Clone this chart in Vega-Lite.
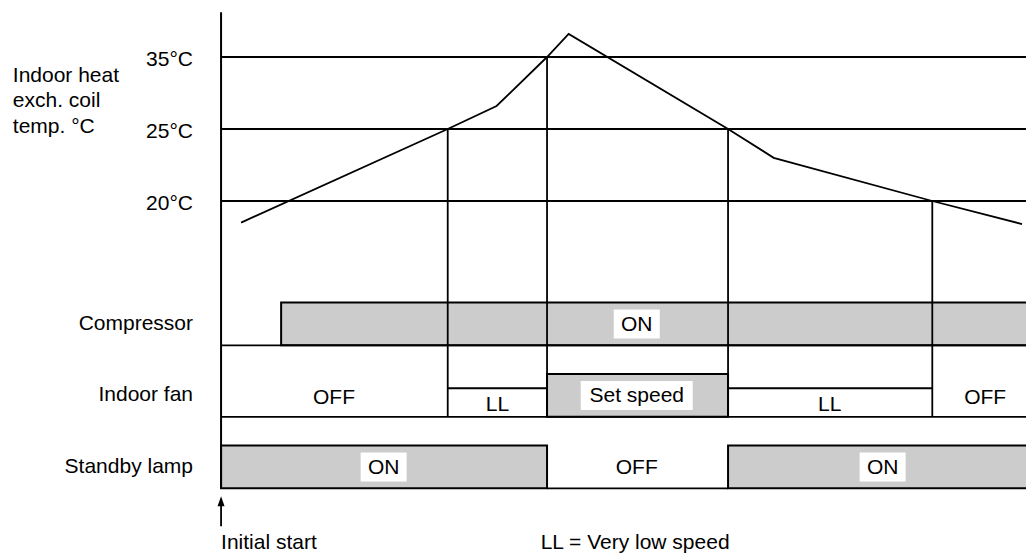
{
  "$schema": "https://vega.github.io/schema/vega-lite/v6.json",
  "width": 1026,
  "height": 555,
  "autosize": {"type": "none"},
  "padding": 0,
  "background": "white",
  "config": {
    "view": {"stroke": null},
    "text": {"font": "Liberation Sans", "fontSize": 21, "color": "#000000"},
    "rule": {"color": "#000000", "strokeWidth": 1.8}
  },
  "datasets": {
    "coilTemp": [
      {"t": 2.5, "temp": 18.5},
      {"t": 28.3, "temp": 25},
      {"t": 34.4, "temp": 28.2},
      {"t": 40.7, "temp": 35},
      {"t": 43.4, "temp": 38.2},
      {"t": 63.3, "temp": 25},
      {"t": 69.0, "temp": 23.0},
      {"t": 88.8, "temp": 20},
      {"t": 100.0, "temp": 18.4}
    ],
    "thresholds": [
      {"temp": 35, "label": "35°C"},
      {"temp": 25, "label": "25°C"},
      {"temp": 20, "label": "20°C"}
    ],
    "switchPoints": [
      {"t": 28.3, "temp": 25},
      {"t": 40.7, "temp": 35},
      {"t": 63.3, "temp": 25},
      {"t": 88.8, "temp": 20}
    ],
    "onBars": [
      {"lane": "Compressor", "state": "ON", "t0": 7.5, "t1": 101, "lo": 10, "hi": 13},
      {"lane": "Indoor fan", "state": "Set speed", "t0": 40.7, "t1": 63.3, "lo": 5, "hi": 8},
      {"lane": "Standby lamp", "state": "ON", "t0": 0, "t1": 40.7, "lo": 0, "hi": 3},
      {"lane": "Standby lamp", "state": "ON", "t0": 63.3, "t1": 101, "lo": 0, "hi": 3}
    ],
    "levelEdges": [
      {"lane": "Compressor", "t0": 0, "t1": 100.5, "lv": 10},
      {"lane": "Indoor fan", "t0": 0, "t1": 100.5, "lv": 5},
      {"lane": "Indoor fan", "t0": 28.3, "t1": 40.7, "lv": 7},
      {"lane": "Indoor fan", "t0": 63.3, "t1": 88.8, "lv": 7},
      {"lane": "Standby lamp", "t0": 40.7, "t1": 63.3, "lv": 0}
    ],
    "transitions": [
      {"t": 28.3, "lo": 5, "hi": 13},
      {"t": 40.7, "lo": 5, "hi": 13},
      {"t": 63.3, "lo": 5, "hi": 13},
      {"t": 88.8, "lo": 5, "hi": 13}
    ],
    "stateLabels": [
      {"text": "ON", "t": 51.9, "lv": 11.5, "box": "small"},
      {"text": "Set speed", "t": 51.9, "lv": 6.5, "box": "wide"},
      {"text": "ON", "t": 20.3, "lv": 1.5, "box": "small"},
      {"text": "ON", "t": 82.6, "lv": 1.5, "box": "small"},
      {"text": "OFF", "t": 51.9, "lv": 1.5, "box": "none"},
      {"text": "OFF", "t": 14.1, "lv": 6.4, "box": "none"},
      {"text": "OFF", "t": 95.4, "lv": 6.4, "box": "none"},
      {"text": "LL", "t": 34.5, "lv": 5.9, "box": "none"},
      {"text": "LL", "t": 76.0, "lv": 5.9, "box": "none"}
    ],
    "lanes": [
      {"lane": "Compressor", "lv": 11.5},
      {"lane": "Indoor fan", "lv": 6.5},
      {"lane": "Standby lamp", "lv": 1.5}
    ],
    "notes": [
      {"note": "Initial start", "t": 0, "lv": -3.8},
      {"note": "LL = Very low speed", "t": 39.9, "lv": -3.85}
    ]
  },
  "resolve": {"scale": {"y": "independent"}},
  "layer": [
    {
      "layer": [
        {
          "data": {"name": "thresholds"},
          "mark": {"type": "rule", "strokeWidth": 1.8},
          "encoding": {
            "x": {"datum": 0, "type": "quantitative", "scale": {"domain": [-27.6, 100.5], "zero": false, "nice": false}, "axis": null},
            "x2": {"datum": 100.5},
            "y": {"field": "temp", "type": "quantitative", "scale": {"domain": [-4.6, 20, 25, 35, 42.9], "range": [555, 201, 129, 57, 0], "zero": false, "nice": false}, "axis": null}
          }
        },
        {
          "data": {"name": "thresholds"},
          "mark": {"type": "text", "align": "right", "baseline": "middle", "dy": 3},
          "encoding": {
            "x": {"datum": -3.5, "type": "quantitative"},
            "y": {"field": "temp", "type": "quantitative"},
            "text": {"field": "label"}
          }
        },
        {
          "data": {"name": "switchPoints"},
          "mark": {"type": "rule", "strokeWidth": 1.8},
          "encoding": {
            "x": {"field": "t", "type": "quantitative"},
            "y": {"field": "temp", "type": "quantitative"},
            "y2": {"datum": 12.9}
          }
        },
        {
          "data": {"name": "coilTemp"},
          "mark": {"type": "line", "color": "#000000", "strokeWidth": 1.8},
          "encoding": {
            "x": {"field": "t", "type": "quantitative"},
            "y": {"field": "temp", "type": "quantitative"}
          }
        },
        {
          "data": {"values": [{"title": "Indoor heat\nexch. coil\ntemp. °C"}]},
          "mark": {"type": "text", "align": "left", "baseline": "middle", "lineBreak": "\n", "lineHeight": 25.5},
          "encoding": {
            "x": {"datum": -26, "type": "quantitative"},
            "y": {"datum": 32.4, "type": "quantitative"},
            "text": {"field": "title"}
          }
        }
      ]
    },
    {
      "layer": [
        {
          "data": {"name": "onBars"},
          "mark": {"type": "rect", "fill": "#cccccc", "stroke": "#000000", "strokeWidth": 2},
          "encoding": {
            "x": {"field": "t0", "type": "quantitative"},
            "x2": {"field": "t1"},
            "y": {"field": "lo", "type": "quantitative", "scale": {"domain": [-4.66, 34.15], "zero": false, "nice": false}, "axis": null},
            "y2": {"field": "hi"}
          }
        },
        {
          "data": {"name": "levelEdges"},
          "mark": {"type": "rule", "strokeWidth": 1.8},
          "encoding": {
            "x": {"field": "t0", "type": "quantitative"},
            "x2": {"field": "t1"},
            "y": {"field": "lv", "type": "quantitative"}
          }
        },
        {
          "data": {"name": "transitions"},
          "mark": {"type": "rule", "strokeWidth": 1.8},
          "encoding": {
            "x": {"field": "t", "type": "quantitative"},
            "y": {"field": "lo", "type": "quantitative"},
            "y2": {"field": "hi"}
          }
        },
        {
          "data": {"values": [{}]},
          "mark": {"type": "rule", "strokeWidth": 2},
          "encoding": {
            "x": {"datum": 0, "type": "quantitative"},
            "y": {"datum": 0, "type": "quantitative"},
            "y2": {"datum": 33.3}
          }
        },
        {
          "data": {"values": [{}]},
          "mark": {"type": "rule", "strokeWidth": 1.8},
          "encoding": {
            "x": {"datum": 0, "type": "quantitative"},
            "y": {"datum": -2.65, "type": "quantitative"},
            "y2": {"datum": -1.2}
          }
        },
        {
          "data": {"values": [{}]},
          "mark": {"type": "point", "shape": "M0,-1L0.7,1L-0.7,1Z", "filled": true, "color": "#000000", "size": 100, "opacity": 1},
          "encoding": {
            "x": {"datum": 0, "type": "quantitative"},
            "y": {"datum": -0.91, "type": "quantitative"}
          }
        },
        {
          "data": {"name": "stateLabels"},
          "transform": [{"filter": "datum.box == 'small'"}],
          "mark": {"type": "point", "shape": "M-1,-0.63H1V0.63H-1Z", "filled": true, "color": "#ffffff", "size": 2116, "opacity": 1, "strokeWidth": 0},
          "encoding": {
            "x": {"field": "t", "type": "quantitative"},
            "y": {"field": "lv", "type": "quantitative"}
          }
        },
        {
          "data": {"name": "stateLabels"},
          "transform": [{"filter": "datum.box == 'wide'"}],
          "mark": {"type": "point", "shape": "M-1,-0.259H1V0.259H-1Z", "filled": true, "color": "#ffffff", "size": 12544, "opacity": 1, "strokeWidth": 0},
          "encoding": {
            "x": {"field": "t", "type": "quantitative"},
            "y": {"field": "lv", "type": "quantitative"}
          }
        },
        {
          "data": {"name": "stateLabels"},
          "mark": {"type": "text", "align": "center", "baseline": "middle", "dy": 1},
          "encoding": {
            "x": {"field": "t", "type": "quantitative"},
            "y": {"field": "lv", "type": "quantitative"},
            "text": {"field": "text"}
          }
        },
        {
          "data": {"name": "lanes"},
          "mark": {"type": "text", "align": "right", "baseline": "middle", "dy": 0},
          "encoding": {
            "x": {"datum": -3.5, "type": "quantitative"},
            "y": {"field": "lv", "type": "quantitative"},
            "text": {"field": "lane"}
          }
        },
        {
          "data": {"name": "notes"},
          "mark": {"type": "text", "align": "left", "baseline": "middle", "dy": 0},
          "encoding": {
            "x": {"field": "t", "type": "quantitative"},
            "y": {"field": "lv", "type": "quantitative"},
            "text": {"field": "note"}
          }
        }
      ]
    }
  ]
}
